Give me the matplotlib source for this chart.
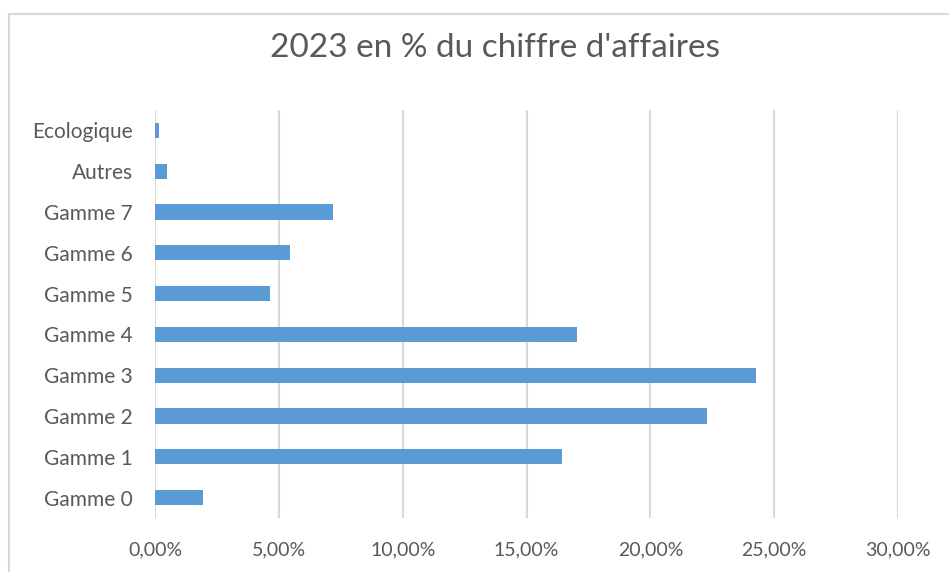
import matplotlib
matplotlib.use("Agg")
import matplotlib.pyplot as plt
from matplotlib.ticker import FuncFormatter
from matplotlib.lines import Line2D

categories = ["Gamme 0", "Gamme 1", "Gamme 2", "Gamme 3", "Gamme 4",
              "Gamme 5", "Gamme 6", "Gamme 7", "Autres", "Ecologique"]
values = [0.0195, 0.1645, 0.2230, 0.2425, 0.1705,
          0.0463, 0.0547, 0.0720, 0.0050, 0.0018]
xticks = [0.0, 0.05, 0.10, 0.15, 0.20, 0.25, 0.30]
title = "2023 en % du chiffre d'affaires"

text_color = "#595959"
bar_color = "#5b9bd5"
grid_color = "#d9d9d9"

plt.rcParams["font.family"] = ["Lato", "DejaVu Sans"]

W, H = 949, 572
fig = plt.figure(figsize=(W / 100, H / 100), dpi=100)
fig.patch.set_facecolor("white")

# outer chart frame (top and left visible)
fig.add_artist(Line2D([9 / W, 1.0], [1 - 14 / H, 1 - 14 / H], color="#d9d9d9", lw=1.5,
                      transform=fig.transFigure))
fig.add_artist(Line2D([9 / W, 9 / W], [0.0, 1 - 14 / H], color="#d9d9d9", lw=1.5,
                      transform=fig.transFigure))

ax = fig.add_axes([155 / W, 1 - 518 / H, (898 - 155) / W, (518 - 110) / H])
ypos = list(range(len(categories)))
ax.barh(ypos, values, height=0.37, color=bar_color, zorder=3)
ax.set_ylim(-0.5, len(categories) - 0.5)
ax.set_xlim(0, 0.30)
ax.set_xticks(xticks)
ax.xaxis.set_major_formatter(FuncFormatter(lambda v, p: f"{v*100:.2f}%".replace(".", ",")))
ax.set_yticks(ypos)
ax.set_yticklabels(categories)
ax.grid(axis="x", color=grid_color, lw=1.5, zorder=0)
for s in ax.spines.values():
    s.set_visible(False)
ax.tick_params(axis="both", length=0, colors=text_color)
ax.tick_params(axis="y", pad=16, labelsize=15)
ax.tick_params(axis="x", pad=17, labelsize=14)

fig.text(495 / W, 1 - 48 / H, title, ha="center", va="center", fontsize=24, color=text_color)

fig.savefig("out.png", dpi=100, facecolor="white")
